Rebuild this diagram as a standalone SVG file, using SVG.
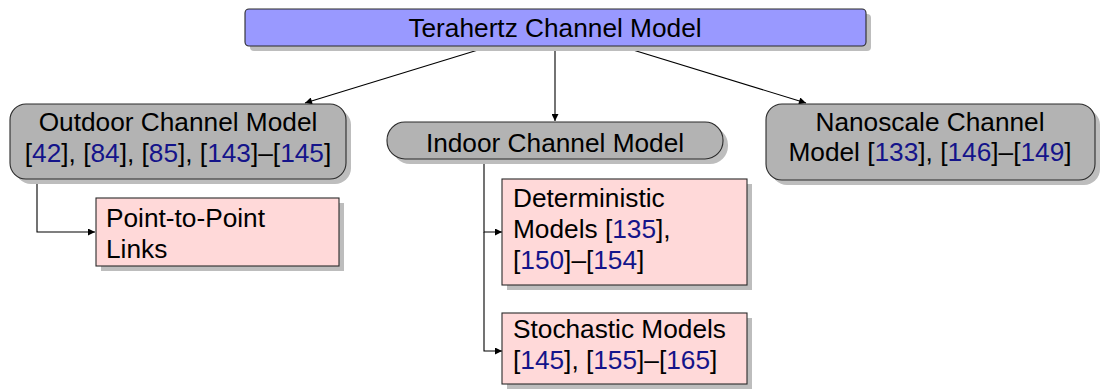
<svg xmlns="http://www.w3.org/2000/svg" width="1100" height="392" viewBox="0 0 1100 392">
<style>
text{font-family:"Liberation Sans",Arial,Helvetica,sans-serif;font-size:25px;fill:#000}
.c{text-anchor:middle}
.r{fill:#14148a}
.sh{fill:#bdbdbd}
.box{stroke:#2a2a2a;stroke-width:1.1}
.top{fill:#9999ff}
.gray{fill:#b3b3b3}
.pink{fill:#ffd9d9}
.ln{fill:none;stroke:#000;stroke-width:1.1}
</style>
<defs>
<marker id="ah" viewBox="0 0 10 10" refX="10" refY="5" markerWidth="10" markerHeight="7" markerUnits="userSpaceOnUse" orient="auto">
<path d="M0,0 L10,5 L0,10 Z" fill="#000"/>
</marker>
</defs>
<rect width="1100" height="392" fill="#fff"/>
<g id="connectors">
<line class="ln" x1="491" y1="46" x2="305" y2="103" marker-end="url(#ah)"/>
<line class="ln" x1="555" y1="46" x2="555" y2="121" marker-end="url(#ah)"/>
<line class="ln" x1="620" y1="46" x2="806" y2="103" marker-end="url(#ah)"/>
<polyline class="ln" points="37,179 37,232 95,232" marker-end="url(#ah)"/>
<polyline class="ln" points="484,159 484,232 502,232" marker-end="url(#ah)"/>
<polyline class="ln" points="484,232 484,351 502,351" marker-end="url(#ah)"/>
</g>
<g id="terahertz">
<rect class="sh" x="250" y="14" width="621" height="37" rx="4"/>
<rect class="box top" x="245" y="9" width="621" height="37" rx="4"/>
<text class="c" transform="translate(555,37) scale(1.05,1)">Terahertz Channel Model</text>
</g>
<g id="outdoor">
<rect class="sh" x="15" y="109" width="336" height="75" rx="16"/>
<rect class="box gray" x="10" y="104" width="336" height="75" rx="16"/>
<text class="c" transform="translate(178,131) scale(1.05,1)"><tspan x="0" y="0">Outdoor Channel Model</tspan><tspan x="0" y="31">[<tspan class="r">42</tspan>], [<tspan class="r">84</tspan>], [<tspan class="r">85</tspan>], [<tspan class="r">143</tspan>]–[<tspan class="r">145</tspan>]</tspan></text>
</g>
<g id="indoor">
<rect class="sh" x="392" y="127" width="336" height="37" rx="18"/>
<rect class="box gray" x="387" y="122" width="336" height="37" rx="18"/>
<text class="c" transform="translate(555,152) scale(1.05,1)">Indoor Channel Model</text>
</g>
<g id="nanoscale">
<rect class="sh" x="771" y="109" width="329" height="76" rx="16"/>
<rect class="box gray" x="766" y="104" width="329" height="76" rx="16"/>
<text class="c" transform="translate(930,131) scale(1.05,1)"><tspan x="0" y="0">Nanoscale Channel</tspan><tspan x="0" y="30">Model [<tspan class="r">133</tspan>], [<tspan class="r">146</tspan>]–[<tspan class="r">149</tspan>]</tspan></text>
</g>
<g id="point">
<rect class="sh" x="101" y="203" width="243" height="68"/>
<rect class="box pink" x="96" y="198" width="243" height="68"/>
<text transform="translate(106,227) scale(1.05,1)"><tspan x="0" y="0">Point-to-Point</tspan><tspan x="0" y="31">Links</tspan></text>
</g>
<g id="deterministic">
<rect class="sh" x="507" y="184" width="245" height="106"/>
<rect class="box pink" x="502" y="179" width="245" height="106"/>
<text transform="translate(513,207) scale(1.05,1)"><tspan x="0" y="0">Deterministic</tspan><tspan x="0" y="31">Models [<tspan class="r">135</tspan>],</tspan><tspan x="0" y="62">[<tspan class="r">150</tspan>]–[<tspan class="r">154</tspan>]</tspan></text>
</g>
<g id="stochastic">
<rect class="sh" x="507" y="318" width="245" height="71"/>
<rect class="box pink" x="502" y="313" width="245" height="71"/>
<text transform="translate(513,338) scale(1.05,1)"><tspan x="0" y="0">Stochastic Models</tspan><tspan x="0" y="31">[<tspan class="r">145</tspan>], [<tspan class="r">155</tspan>]–[<tspan class="r">165</tspan>]</tspan></text>
</g>
</svg>
